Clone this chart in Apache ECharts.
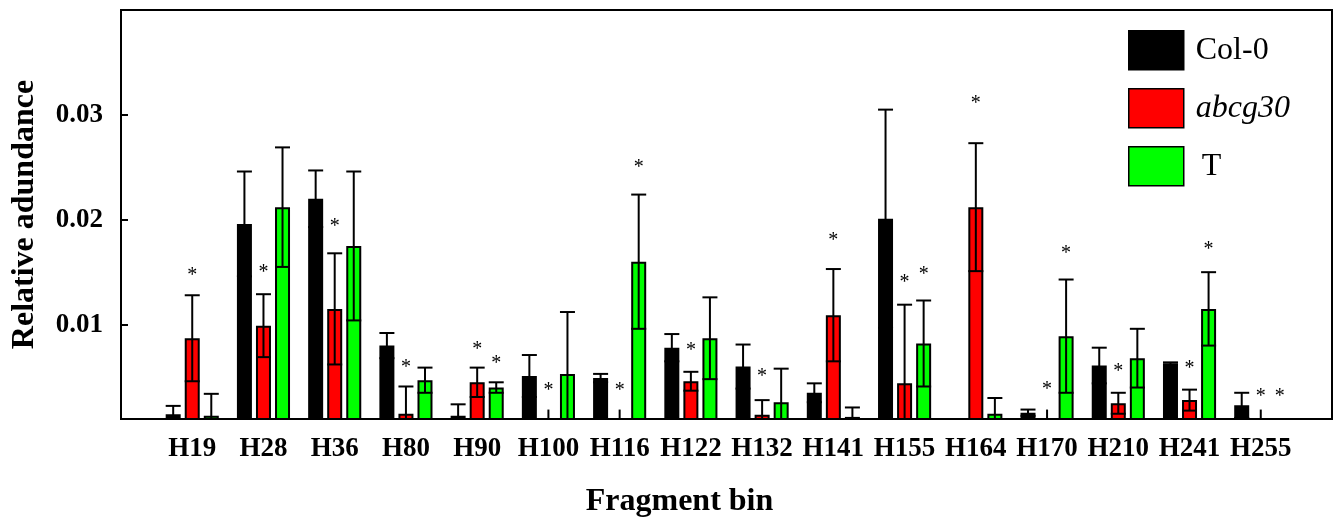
<!DOCTYPE html>
<html>
<head>
<meta charset="utf-8">
<script src="https://cdn.jsdelivr.net/npm/echarts@6/dist/echarts.min.js"></script>
<style>
html, body { margin: 0; padding: 0; background: #fff; }
#chart { width: 1340px; height: 521px; }
</style>
</head>
<body>
<div id="chart"></div>
<script>
// Fragment bins on the x axis
const categories = ['H19', 'H28', 'H36', 'H80', 'H90', 'H100', 'H116', 'H122', 'H132', 'H141', 'H155', 'H164', 'H170', 'H210', 'H241', 'H255'];
const seriesNames = ['Col-0', 'abcg30', 'T'];

// Mean relative abundance and standard deviation per line
const col0Mean = [0.00145, 0.0196, 0.0220, 0.0080, 0.0013, 0.0051, 0.0049, 0.0078, 0.0060, 0.0035, 0.0201, 0, 0.0016, 0.0061, 0.0063, 0.0023];
const col0Sd   = [0.0008, 0.0050, 0.0027, 0.0012, 0.0011, 0.0020, 0.0004, 0.0013, 0.0021, 0.0009, 0.0104, 0, 0.0003, 0.0017, 0.0001, 0.0012];

const abcgMean = [0.0087, 0.0099, 0.0115, 0.0015, 0.0045, 0, 0, 0.0046, 0.0014, 0.0109, 0.0044, 0.0212, 0, 0.0025, 0.0028, 0];
const abcgSd   = [0.0041, 0.0030, 0.0053, 0.0026, 0.0014, 0.0019, 0.0019, 0.0009, 0.0014, 0.0044, 0.0075, 0.0061, 0.0019, 0.0010, 0.0010, 0.0019];

const tMean = [0.0013, 0.0212, 0.0175, 0.0047, 0.0040, 0.0053, 0.0160, 0.0087, 0.0026, 0.0012, 0.0082, 0.0015, 0.0089, 0.0068, 0.0115, 0];
const tSd   = [0.0021, 0.0057, 0.0071, 0.0012, 0.0005, 0.0059, 0.0064, 0.0039, 0.0032, 0.0009, 0.0041, 0.0015, 0.0054, 0.0028, 0.0035, 0];

// Height at which a significance asterisk sits (null = not significant)
const col0Star = [null, null, null, null, null, null, null, null, null, null, null, null, null, null, null, null];
const abcgStar = [0.0147, 0.0149, 0.0193, 0.0059, 0.0076, 0.0037, 0.0037, 0.0075, 0.0050, 0.0180, 0.0140, 0.0311, 0.0038, 0.0055, 0.0058, 0.0031];
const tStar    = [null, null, null, null, 0.0063, null, 0.0250, null, null, null, 0.0148, null, 0.0168, null, 0.0171, 0.0031];

// Value axis
const yTicks = [0.01, 0.02, 0.03];
const yMin = 0.001;
const yMax = 0.04;

// Styling constants
const FONT = "'Liberation Serif', 'Times New Roman', serif";
const COLORS = ['#000000', '#ff0000', '#00ff00'];
const BAR_W = 15;
const BAR_GAP = 0.27;
const BAR_STEP = BAR_W * (1 + BAR_GAP);
const CAP_W = 15;
const LINE_W = 2;

// One empty slot at each end of the category axis
const axisCats = [''].concat(categories, ['']);
const pad = arr => [null].concat(arr, [null]);

const means = [col0Mean, abcgMean, tMean];
const sds = [col0Sd, abcgSd, tSd];
const stars = [col0Star, abcgStar, tStar];

function errorRenderer(g) {
  return function (params, api) {
    const xi = api.value(0);
    const mean = api.value(1);
    const sd = api.value(2);
    if (!(sd > 0)) return null;
    const shift = (g - 1) * BAR_STEP;
    const topPt = api.coord([xi, mean + sd]);
    const cx = topPt[0] + shift;
    const lowVal = Math.max(mean - sd, yMin);
    const lowY = api.coord([xi, lowVal])[1];
    const st = { stroke: '#000', lineWidth: LINE_W };
    const children = [{
      type: 'line',
      shape: { x1: cx, y1: topPt[1], x2: cx, y2: lowY },
      style: st
    }];
    if (mean > 0) {
      children.push({
        type: 'line',
        shape: { x1: cx - CAP_W / 2, y1: topPt[1], x2: cx + CAP_W / 2, y2: topPt[1] },
        style: st
      });
      if (mean - sd > yMin) {
        children.push({
          type: 'line',
          shape: { x1: cx - BAR_W / 2, y1: lowY, x2: cx + BAR_W / 2, y2: lowY },
          style: st
        });
      }
    }
    return { type: 'group', children: children };
  };
}

function starRenderer(g) {
  return function (params, api) {
    const xi = api.value(0);
    const v = api.value(1);
    const pt = api.coord([xi, v]);
    return {
      type: 'text',
      x: pt[0] + (g - 1) * BAR_STEP,
      y: pt[1],
      style: {
        text: '*',
        font: '20px ' + FONT,
        fill: '#000',
        align: 'center',
        verticalAlign: 'middle'
      }
    };
  };
}

const series = [];
seriesNames.forEach((name, g) => {
  series.push({
    type: 'bar',
    name: name,
    data: pad(means[g]),
    barWidth: BAR_W,
    barGap: (BAR_GAP * 100) + '%',
    itemStyle: { color: COLORS[g], borderColor: '#000', borderWidth: LINE_W },
    z: 2,
    silent: true
  });
});
seriesNames.forEach((name, g) => {
  series.push({
    type: 'custom',
    name: 'err' + g,
    renderItem: errorRenderer(g),
    data: means[g].map((m, i) => [i + 1, m, sds[g][i]]),
    z: 3,
    silent: true
  });
  series.push({
    type: 'custom',
    name: 'sig' + g,
    renderItem: starRenderer(g),
    data: stars[g].map((s, i) => [i + 1, s]).filter(d => d[1] !== null),
    z: 4,
    silent: true
  });
});

const chart = echarts.init(document.getElementById('chart'), null, { renderer: 'canvas' });
chart.setOption({
  animation: false,
  backgroundColor: '#fff',
  grid: {
    left: 121, right: 8, top: 10, bottom: 102,
    outerBoundsMode: 'none',
    containLabel: false,
    show: true, borderColor: '#000', borderWidth: 2, backgroundColor: 'transparent'
  },
  legend: {
    orient: 'vertical',
    left: 1128,
    top: 30,
    padding: 0,
    itemWidth: 55,
    itemHeight: 39,
    itemGap: 17.5,
    icon: 'rect',
    data: seriesNames,
    selectedMode: false,
    itemStyle: { borderColor: '#000', borderWidth: 1.5 },
    formatter: n => n === 'abcg30' ? '{i|abcg30}' : (n === 'T' ? '{t|T}' : n),
    textStyle: {
      fontFamily: FONT, fontSize: 32, color: '#000', padding: [0, 0, 0, 7],
      rich: {
        i: { fontFamily: FONT, fontSize: 32, fontStyle: 'italic', color: '#000' },
        t: { fontFamily: FONT, fontSize: 32, color: '#000', padding: [0, 0, 0, 6] }
      }
    }
  },
  xAxis: {
    type: 'category',
    data: axisCats,
    boundaryGap: false,
    name: 'Fragment bin',
    nameLocation: 'middle',
    nameGap: 67,
    nameTextStyle: { fontFamily: FONT, fontSize: 32, fontWeight: 'bold', color: '#000', padding: [0, 94, 0, 0] },
    axisLine: { lineStyle: { color: '#000', width: 2 } },
    axisTick: { show: false },
    axisLabel: { interval: 0, margin: 17, fontFamily: FONT, fontSize: 27, fontWeight: 'bold', color: '#000' },
    splitLine: { show: false }
  },
  yAxis: {
    type: 'value',
    min: yMin,
    max: yMax,
    name: 'Relative adundance',
    nameLocation: 'middle',
    nameGap: 80,
    nameTextStyle: { fontFamily: FONT, fontSize: 32, fontWeight: 'bold', color: '#000' },
    axisLine: { show: true, lineStyle: { color: '#000', width: 2 } },
    axisTick: { show: true, inside: true, length: 7, customValues: yTicks, lineStyle: { color: '#000', width: 2 } },
    axisLabel: {
      customValues: yTicks, margin: 18,
      formatter: v => v.toFixed(2),
      fontFamily: FONT, fontSize: 27, fontWeight: 'bold', color: '#000'
    },
    splitLine: { show: false }
  },
  series: series
});
</script>
</body>
</html>
